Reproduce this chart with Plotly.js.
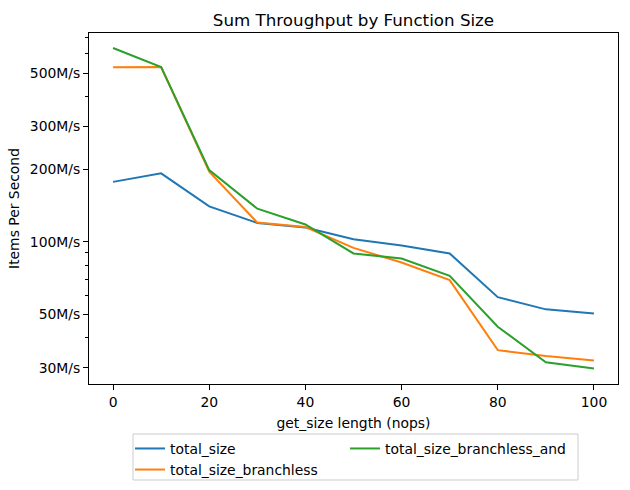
<!DOCTYPE html>
<html>
<head>
<meta charset="utf-8">
<script src="https://cdn.plot.ly/plotly-3.0.1.min.js"></script>
<style>
  html, body { margin: 0; padding: 0; background: #fff; }
  #chart { width: 630px; height: 490px; }
</style>
</head>
<body>
<div id="chart"></div>
<script>
// get_size length (nops)
const nops = [0, 10, 20, 30, 40, 50, 60, 70, 80, 90, 100];

// items per second
const totalSize = [177e6, 192e6, 140e6, 119.6e6, 114.5e6, 102.4e6, 96.4e6, 89.4e6, 58.9e6, 52.4e6, 50.4e6];
const totalSizeBranchless = [528e6, 530e6, 195e6, 120e6, 115e6, 94.2e6, 82e6, 69.3e6, 35.5e6, 33.6e6, 32.2e6];
const totalSizeBranchlessAnd = [635e6, 530e6, 198e6, 137e6, 117.8e6, 89.4e6, 85.2e6, 72.2e6, 44.4e6, 31.6e6, 29.8e6];

const yTickVals = [30e6, 50e6, 100e6, 200e6, 300e6, 500e6];
const yTickText = ['30M/s', '50M/s', '100M/s', '200M/s', '300M/s', '500M/s'];
const yMinorVals = [40e6, 60e6, 70e6, 80e6, 90e6, 400e6, 600e6, 700e6];

const font = 'DejaVu Sans, sans-serif';

// two legend columns like matplotlib's ncol=2 (column-first fill)
const traces = [
  { x: nops, y: totalSize, name: 'total_size', legend: 'legend',
    line: { color: '#1f77b4', width: 2 } },
  { x: nops, y: totalSizeBranchless, name: 'total_size_branchless', legend: 'legend',
    line: { color: '#ff7f0e', width: 2 } },
  { x: nops, y: totalSizeBranchlessAnd, name: 'total_size_branchless_and', legend: 'legend2',
    line: { color: '#2ca02c', width: 2 } }
].map(t => Object.assign({ type: 'scatter', mode: 'lines' }, t));

const legendBase = {
  orientation: 'v',
  xanchor: 'left',
  y: -0.1394, yanchor: 'top',
  itemwidth: 30,
  bgcolor: 'rgba(0,0,0,0)',
  borderwidth: 0,
  font: { size: 13.9 },
  traceorder: 'normal'
};

const layout = {
  width: 630,
  height: 490,
  margin: { l: 89, r: 12, t: 33, b: 106, autoexpand: false },
  paper_bgcolor: '#fff',
  plot_bgcolor: '#fff',
  font: { family: font, size: 13.9, color: '#000' },
  title: { text: 'Sum Throughput by Function Size', font: { size: 16.7 },
           x: 0.5, xref: 'paper', y: 1, yref: 'paper', yanchor: 'bottom', pad: { b: 7 } },
  xaxis: {
    range: [-5, 105],
    tickvals: [0, 20, 40, 60, 80, 100],
    ticks: 'outside', ticklen: 5, tickcolor: '#000',
    tickfont: { size: 13.9 },
    showline: true, mirror: true, linecolor: '#000', linewidth: 1,
    showgrid: false, zeroline: false,
    title: { text: 'get_size length (nops)', font: { size: 13.9 }, standoff: 9 }
  },
  yaxis: {
    type: 'log',
    range: [Math.log10(25.7e6), Math.log10(733e6)],
    tickmode: 'array', tickvals: yTickVals, ticktext: yTickText,
    ticks: 'outside', ticklen: 5, tickcolor: '#000',
    tickfont: { size: 13.9 },
    minor: { tickmode: 'array', tickvals: yMinorVals, ticks: 'outside', ticklen: 3, tickcolor: '#000', showgrid: false },
    showline: true, mirror: true, linecolor: '#000', linewidth: 1,
    showgrid: false, zeroline: false,
    title: { text: 'Items Per Second', font: { size: 13.9 }, standoff: 6 }
  },
  showlegend: true,
  legend: Object.assign({}, legendBase, { x: 0.0775 }),
  legend2: Object.assign({}, legendBase, { x: 0.484 }),
  shapes: [{
    type: 'rect', xref: 'paper', yref: 'paper',
    x0: 0.0832, x1: 0.9244, y0: -0.1425, y1: -0.2735,
    line: { color: '#cccccc', width: 1 }, fillcolor: 'rgba(0,0,0,0)'
  }]
};

Plotly.newPlot('chart', traces, layout, { displayModeBar: false, staticPlot: true });
</script>
</body>
</html>
